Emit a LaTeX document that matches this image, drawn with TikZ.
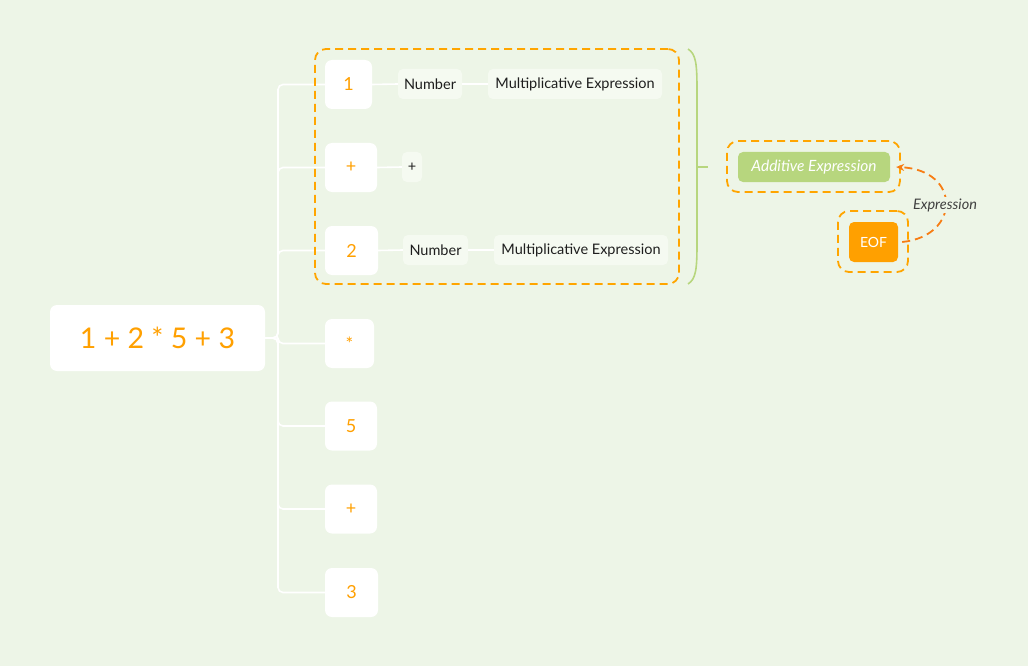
\documentclass[tikz,border=0pt]{standalone}
\usepackage{fontspec}
\setmainfont{Lato}
\usetikzlibrary{arrows.meta}
\definecolor{bg}{RGB}{237,245,231}
\definecolor{sub}{RGB}{245,250,241}
\definecolor{ora}{RGB}{255,160,0}
\definecolor{dora}{RGB}{255,165,0}
\definecolor{arrc}{RGB}{247,125,20}
\definecolor{grn}{RGB}{183,214,126}
\definecolor{txt}{RGB}{30,30,30}
\begin{document}
\begin{tikzpicture}[x=1pt,y=-1pt,
  wbox/.style={fill=white, rounded corners=7pt, inner sep=0pt, text=ora, font=\fontsize{18}{18}\selectfont},
  sbox/.style={fill=sub, rounded corners=5pt, inner sep=0pt, minimum height=30pt, text=txt, font=\fontsize{14.5}{14.5}\selectfont},
  branch/.style={draw=white, line width=1.6pt, rounded corners=5pt},
  grp/.style={draw=dora, dash pattern=on 8pt off 5pt, line width=1.8pt, rounded corners=11pt, inner sep=0pt},
  brk/.style={draw=grn, line width=1.6pt},
  arr/.style={draw=arrc, dash pattern=on 8pt off 5pt, line width=1.8pt, -{Stealth[length=8pt,width=7pt]}}
]
\useasboundingbox (0,0) rectangle (1028,666);
\fill[bg] (0,0) rectangle (1028,666);

% root
\node[wbox, minimum width=215pt, minimum height=66pt, font=\fontsize{28.5}{28.5}\selectfont] (root) at (157.5,338) {1 + 2 * 5 + 3};

% children
\node[wbox, minimum width=47pt, minimum height=49pt] (c1) at (348.5,84.5) {1};
\node[wbox, minimum width=52pt, minimum height=49pt] (c2) at (351,167.5) {+};
\node[wbox, minimum width=53pt, minimum height=49pt] (c3) at (351.5,250.5) {2};
\node[wbox, minimum width=49pt, minimum height=49pt] (c4) at (349.5,343.5) {*};
\node[wbox, minimum width=52pt, minimum height=49pt] (c5) at (351,426) {5};
\node[wbox, minimum width=52pt, minimum height=49pt] (c6) at (351,509) {+};
\node[wbox, minimum width=53pt, minimum height=49pt] (c7) at (351.5,592.5) {3};

\coordinate (tr) at (278,338);
\foreach \c in {c1,c2,c3,c4,c5,c6,c7}{
  \draw[branch] (root.east) -- (tr) |- (\c.west);
}

% second level
\node[sbox, minimum width=64pt] (n1) at (430,84) {Number};
\node[sbox, minimum width=174pt] (m1) at (575,84) {Multiplicative Expression};
\node[sbox, minimum width=20pt] (p1) at (412,167) {+};
\node[sbox, minimum width=65pt] (n2) at (435.5,250) {Number};
\node[sbox, minimum width=174pt] (m2) at (581,250) {Multiplicative Expression};
\draw[branch] (c1.east) -- (n1.west);
\draw[branch] (n1.east) -- (m1.west);
\draw[branch] (c2.east) -- (p1.west);
\draw[branch] (c3.east) -- (n2.west);
\draw[branch] (n2.east) -- (m2.west);

% group box
\node[grp, minimum width=364pt, minimum height=235pt] (g) at (497,166.5) {};

% bracket
\draw[brk] (688,49) .. controls (696,54) and (697,64) .. (697,90) -- (697,243) .. controls (697,269) and (696,279) .. (688,284);
\draw[brk] (697,167) -- (708,167);

% additive expression
\node[grp, minimum width=173pt, minimum height=51pt] (addg) at (813.5,166.5) {};
\node[fill=grn, rounded corners=5pt, minimum width=152pt, minimum height=30pt, inner sep=0pt, text=white, font=\fontsize{15.5}{15.5}\selectfont\itshape] (add) at (814,167) {Additive Expression};

% EOF
\node[grp, minimum width=70pt, minimum height=61pt] (eofg) at (873,241.5) {};
\node[fill=ora, rounded corners=5pt, minimum width=49pt, minimum height=40pt, inner sep=0pt, text=white, font=\fontsize{14}{14}\selectfont] (eof) at (873.5,242) {EOF};

% arrow
\draw[arr] ([xshift=4pt]eof.east) .. controls (961,236) and (961,170) .. ([xshift=6pt]add.east);
\node[fill=bg, inner sep=1pt, text=txt!85, font=\fontsize{14.5}{14.5}\selectfont\itshape] (lbl) at (945,205) {Expression};
\end{tikzpicture}
\end{document}
